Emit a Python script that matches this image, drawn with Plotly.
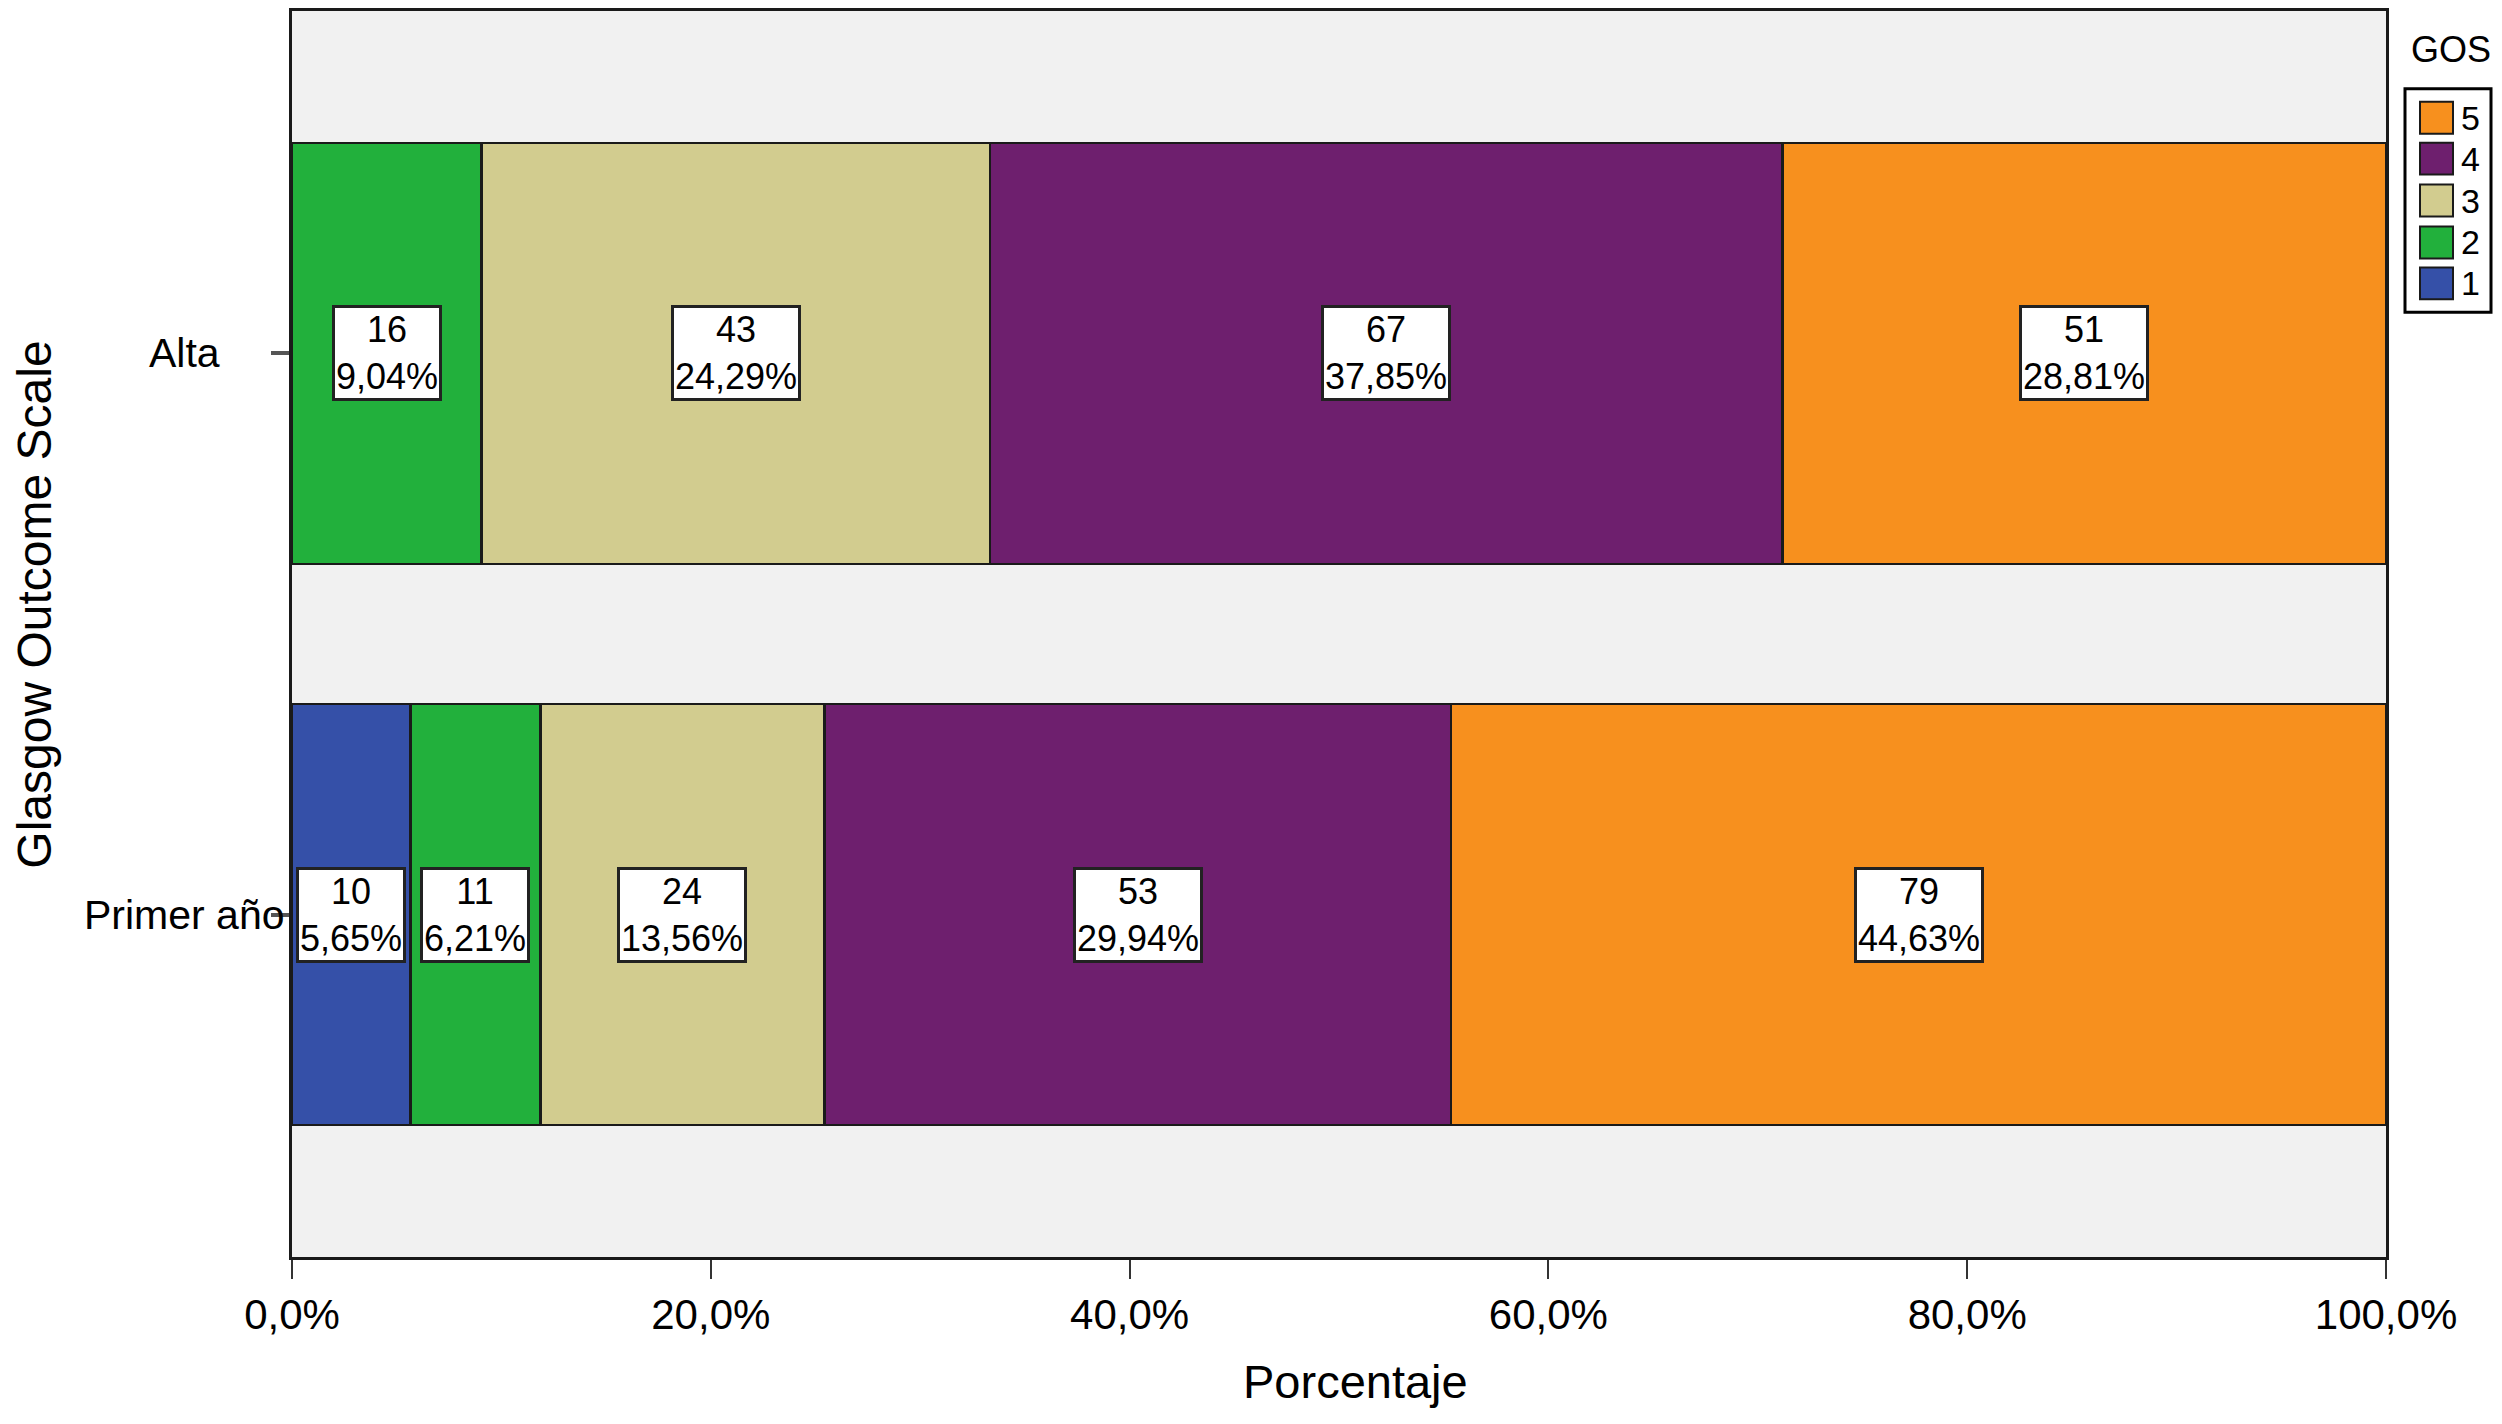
import plotly.graph_objects as go

categories = ["Primer año", "Alta"]
gos_levels = ["1", "2", "3", "4", "5"]
counts = {
    "1": [10, 0],
    "2": [11, 16],
    "3": [24, 43],
    "4": [53, 67],
    "5": [79, 51],
}
percents = {
    "1": [5.65, 0.0],
    "2": [6.21, 9.04],
    "3": [13.56, 24.29],
    "4": [29.94, 37.85],
    "5": [44.63, 28.81],
}
colors = {
    "1": "#3550a8",
    "2": "#22b03c",
    "3": "#d2cc8f",
    "4": "#6e1f6e",
    "5": "#f7901e",
}
x_ticks = [0, 20, 40, 60, 80, 100]
x_ticklabels = ["0,0%", "20,0%", "40,0%", "60,0%", "80,0%", "100,0%"]

FONT = "Liberation Sans, Arial, sans-serif"

fig = go.Figure()
for lvl in gos_levels:
    fig.add_trace(go.Bar(
        y=categories, x=percents[lvl], orientation="h", name=lvl,
        marker=dict(color=colors[lvl], line=dict(color="#1a1a1a", width=2.5)),
        width=0.75, showlegend=False, hoverinfo="x+y",
    ))

annotations = []
# value boxes
for ci, cat in enumerate(categories):
    cum = 0.0
    for lvl in gos_levels:
        p = percents[lvl][ci]
        c = counts[lvl][ci]
        if c > 0:
            annotations.append(dict(
                x=cum + p / 2, y=cat, xref="x", yref="y",
                text=f"{c}<br>{p:.2f}%".replace(".", ","),
                showarrow=False, align="center",
                font=dict(family=FONT, size=36, color="black"),
                bgcolor="white", bordercolor="#222222", borderwidth=3, borderpad=1,
            ))
        cum += p

# category labels (centered)
for cat in categories:
    annotations.append(dict(
        x=-0.0511, y=cat, xref="paper", yref="y", text=cat, showarrow=False,
        xanchor="center", yanchor="middle",
        font=dict(family=FONT, size=41, color="black"),
    ))

# axis titles
annotations.append(dict(
    x=-0.1227, y=0.5236, xref="paper", yref="paper", text="Glasgow Outcome Scale",
    showarrow=False, textangle=-90, xanchor="center", yanchor="middle",
    font=dict(family=FONT, size=48, color="black"),
))
annotations.append(dict(
    x=0.508, y=-0.1, xref="paper", yref="paper", text="Porcentaje",
    showarrow=False, xanchor="center", yanchor="middle",
    font=dict(family=FONT, size=47, color="black"),
))

# custom legend (positions in target pixels converted to paper coords)
W, H, L, B = 2094.0, 1249.0, 292.0, 1257.0
def px(xp):
    return (xp - L) / W
def py(yp):
    return (B - yp) / H

annotations.append(dict(
    x=px(2451), y=py(47), xref="paper", yref="paper", text="GOS", showarrow=False,
    xanchor="center", yanchor="middle", font=dict(family=FONT, size=36, color="black"),
))
shapes = [dict(type="rect", xref="paper", yref="paper",
               x0=px(2405), x1=px(2491), y0=py(86), y1=py(310),
               line=dict(color="black", width=3), fillcolor="white")]
legend_order = ["5", "4", "3", "2", "1"]
centers = [115, 156, 198, 240, 281]
for lvl, cy in zip(legend_order, centers):
    shapes.append(dict(type="rect", xref="paper", yref="paper",
                       x0=px(2420), x1=px(2453), y0=py(cy - 16), y1=py(cy + 16),
                       line=dict(color="#1a1a1a", width=2), fillcolor=colors[lvl]))
    annotations.append(dict(
        x=px(2459), y=py(cy), xref="paper", yref="paper", text=lvl, showarrow=False,
        xanchor="left", yanchor="middle", font=dict(family=FONT, size=34, color="black"),
    ))

# page body has an 8px margin: size/margins compensate so plot lands at target pixels
fig.update_layout(
    width=2486, height=1408,
    margin=dict(l=284, r=108, t=0, b=159, pad=0),
    barmode="stack", bargap=0.25,
    plot_bgcolor="#f1f1f1", paper_bgcolor="white",
    font=dict(family=FONT, color="black"),
    annotations=annotations, shapes=shapes,
    showlegend=False,
)
fig.update_xaxes(
    range=[0, 100], tickvals=x_ticks, ticktext=x_ticklabels,
    ticks="outside", ticklen=19, tickwidth=2, tickcolor="#333333",
    tickfont=dict(family=FONT, size=42, color="black"),
    showline=True, linecolor="#1a1a1a", linewidth=3, mirror=True,
    showgrid=False, zeroline=False, fixedrange=True,
)
fig.update_yaxes(
    type="category", categoryorder="array", categoryarray=categories,
    range=[-0.61, 1.61], showticklabels=False,
    ticks="outside", ticklen=18, tickwidth=4, tickcolor="#555555",
    showline=True, linecolor="#1a1a1a", linewidth=3, mirror=True,
    showgrid=False, zeroline=False, fixedrange=True,
)

fig.write_html("out.html")
